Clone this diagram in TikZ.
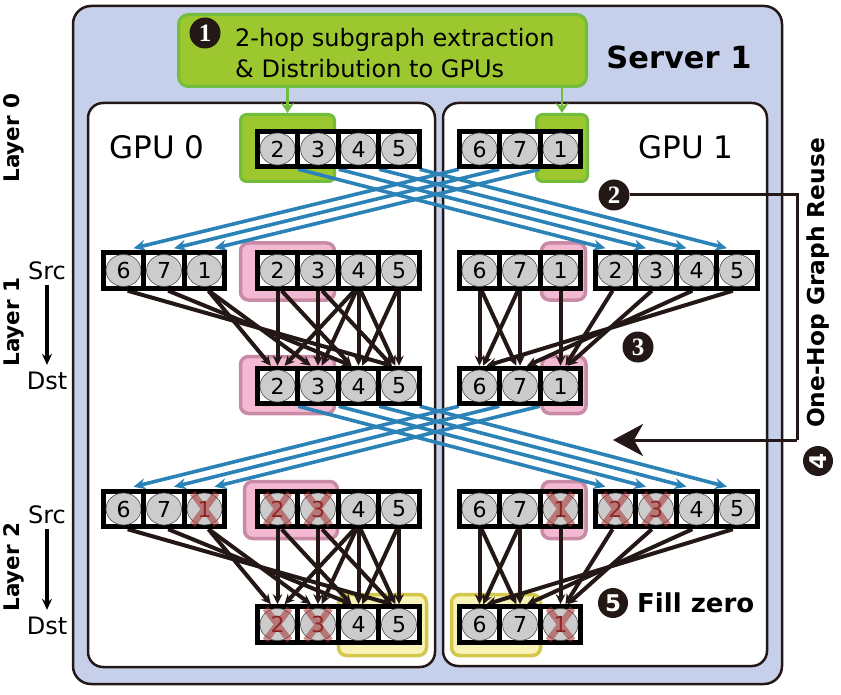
\documentclass[tikz,border=0pt]{standalone}
\usepackage{fontspec}
\setmainfont{DejaVu Sans}
\newfontfamily\numfont{Liberation Serif}
\usetikzlibrary{arrows.meta,calc,shapes.geometric}
\definecolor{dk}{HTML}{231815}
\definecolor{srvfill}{HTML}{C7D0EB}
\definecolor{grnfill}{HTML}{9DC72E}
\definecolor{grnline}{HTML}{72BD3E}
\definecolor{pinkfill}{HTML}{F3B9D2}
\definecolor{pinkline}{HTML}{C88AA5}
\definecolor{yelfill}{HTML}{F8F4B8}
\definecolor{yelline}{HTML}{D3C84C}
\definecolor{blu}{HTML}{2A82B6}
\definecolor{cellgray}{HTML}{CCCCCC}
\definecolor{xred}{HTML}{A83232}
\definecolor{xnum}{HTML}{7A1E1E}
\pgfdeclarelayer{bg}
\pgfdeclarelayer{edges}
\pgfsetlayers{bg,edges,main}
\newcommand\cel[4]{\node[cellbox] (#1) at (#2,#3) {}; \node[cellov] (#1c) at (#1) {#4};}
\newcommand\xcel[4]{\node[cellbox] (#1) at (#2,#3) {}; \node[cellov,text=xnum] (#1c) at (#1) {#4};
  \draw[xmark] ([shift={(-12,-16)}]#1.center) -- ([shift={(12,16)}]#1.center)
               ([shift={(-12,16)}]#1.center) -- ([shift={(12,-16)}]#1.center);}
\newcommand\bedge[2]{\draw[blk] let \p1=(#1.south), \p2=(#2.north),
  \n1={max(-7,min(7,0.09*(\x2-\x1)))} in ({\x1+0.6*\n1},\y1) -- ({\x2-\n1},\y2);}
\begin{document}
\begin{tikzpicture}[x=1pt,y=-1pt,
  cellbox/.style={rectangle, draw=black, line width=5pt, fill=white, minimum width=40.5pt, minimum height=35.5pt, inner sep=0pt},
  cellov/.style={ellipse, draw=gray!60!black, line width=0.6pt, fill=cellgray, minimum width=35pt, minimum height=32pt, inner sep=0pt, font=\fontsize{22}{22}\selectfont},
  xmark/.style={draw=xred, line width=6.5pt, opacity=0.55},
  blk/.style={draw=dk, line width=4pt, -{Stealth[length=10pt,width=9.5pt]}},
  blu/.style={draw=blu, line width=3.6pt, -{Stealth[length=12pt,width=11pt]}},
  gbox/.style={rectangle, rounded corners=6pt, fill=grnfill, draw=grnline, line width=3pt, inner sep=0pt},
  pbox/.style={rectangle, rounded corners=8pt, fill=pinkfill, draw=pinkline, line width=3.5pt, inner sep=0pt},
  ybox/.style={rectangle, rounded corners=8pt, fill=yelfill, draw=yelline, line width=3.5pt, inner sep=0pt},
  numc/.style={circle, fill=dk, text=white, minimum size=31pt, inner sep=0pt, font=\numfont\fontsize{25}{25}\selectfont\bfseries},
  numcs/.style={circle, fill=dk, text=white, minimum size=30pt, inner sep=0pt, font=\fontsize{23}{23}\selectfont\bfseries},
  garr/.style={draw=grnline, line width=2.5pt, -{Stealth[length=10pt,width=13pt]}},
  bigarr/.style={draw=dk, line width=3pt, -{Stealth[length=30pt,width=32pt,inset=9pt]}},
  thinarr/.style={draw=black, line width=3.3pt, -{Stealth[length=11pt,width=10pt]}},
  lbl/.style={inner sep=0pt, font=\fontsize{24}{24}\selectfont},
  lay/.style={inner sep=0pt, rotate=90, font=\fontsize{21.5}{21.5}\selectfont\bfseries}
]
\useasboundingbox (0,0) rectangle (841,695);

\begin{pgfonlayer}{bg}
  \draw[fill=srvfill, draw=dk, line width=2.5pt, rounded corners=18pt] (73,6) rectangle (782,684);
  \draw[fill=white, draw=dk, line width=2.5pt, rounded corners=15pt] (88,103) rectangle (435,667);
  \draw[fill=white, draw=dk, line width=2.5pt, rounded corners=15pt] (443,103) rectangle (767,666);
  % highlights
  \node[gbox, minimum width=94pt, minimum height=67pt] (gh0) at (287.5,148) {};
  \node[gbox, minimum width=51pt, minimum height=67pt] (gh1) at (562,148) {};
  \node[pbox, minimum width=94pt, minimum height=57pt] (ph1) at (287.5,271.5) {};
  \node[pbox, minimum width=44pt, minimum height=57pt] (ph2) at (563.5,271.5) {};
  \node[pbox, minimum width=94pt, minimum height=57pt] (ph3) at (287.5,385) {};
  \node[pbox, minimum width=44pt, minimum height=57pt] (ph4) at (564,385) {};
  \node[pbox, minimum width=93pt, minimum height=57pt] (ph5) at (291,510) {};
  \node[pbox, minimum width=44pt, minimum height=57pt] (ph6) at (564,510) {};
  \node[ybox, minimum width=88pt, minimum height=61pt] (yh1) at (382.5,625) {};
  \node[ybox, minimum width=89pt, minimum height=61pt] (yh2) at (496,625) {};
\end{pgfonlayer}

% step 1 box
\node[gbox, rounded corners=10pt, minimum width=408pt, minimum height=72pt] (gbox) at (382.5,50.5) {};
\node[numc] (n1) at (205,33) {1};
\node[anchor=base west, inner sep=0pt, font=\fontsize{24}{24}\selectfont] (t1a) at (235,47) {2-hop subgraph extraction};
\node[anchor=base west, inner sep=0pt, font=\fontsize{24}{24}\selectfont] (t1b) at (235,78) {\& Distribution to GPUs};
\draw[garr] (gbox.south -| gh0.north) -- (gh0.north);
\draw[garr] (gbox.south -| gh1.north) -- (gh1.north);

\node[inner sep=0pt, font=\fontsize{30.5}{30.5}\selectfont\bfseries] (srv) at (679,57) {Server 1};
\node[inner sep=0pt, font=\fontsize{31}{31}\selectfont] (g0) at (157,147) {GPU 0};
\node[inner sep=0pt, font=\fontsize{31}{31}\selectfont] (g1) at (686,147) {GPU 1};

% Layer 0
\foreach \n/\x in {2/277.5,3/318,4/358.5,5/399} {\cel{l0a\n}{\x}{149}{\n}}
\foreach \n/\x in {6/479.5,7/520,1/560.5} {\cel{l0b\n}{\x}{149}{\n}}
% Layer 1 src
\foreach \n/\x in {6/123.5,7/164,1/204.5,2/277.5,3/318,4/358.5,5/399} {\cel{s1a\n}{\x}{270.5}{\n}}
\foreach \n/\x in {6/479.5,7/520,1/560.5,2/615.5,3/656,4/696.5,5/737} {\cel{s1b\n}{\x}{270.5}{\n}}
% Layer 1 dst
\foreach \n/\x in {2/277.5,3/318,4/358.5,5/399} {\cel{d1a\n}{\x}{386}{\n}}
\foreach \n/\x in {6/479.5,7/520,1/560.5} {\cel{d1b\n}{\x}{386}{\n}}
% Layer 2 src
\foreach \n/\x in {6/123.5,7/164,4/358.5,5/399} {\cel{s2a\n}{\x}{509}{\n}}
\foreach \n/\x in {1/204.5,2/277.5,3/318} {\xcel{s2a\n}{\x}{509}{\n}}
\foreach \n/\x in {6/479.5,7/520,4/696.5,5/737} {\cel{s2b\n}{\x}{509}{\n}}
\foreach \n/\x in {1/560.5,2/615.5,3/656} {\xcel{s2b\n}{\x}{509}{\n}}
% Layer 2 dst
\foreach \n/\x in {4/358.5,5/399} {\cel{d2a\n}{\x}{624.5}{\n}}
\foreach \n/\x in {2/277.5,3/318} {\xcel{d2a\n}{\x}{624.5}{\n}}
\foreach \n/\x in {6/479.5,7/520} {\cel{d2b\n}{\x}{624.5}{\n}}
\foreach \n/\x in {1/560.5} {\xcel{d2b\n}{\x}{624.5}{\n}}

\begin{pgfonlayer}{edges}
  % blue: cross-GPU transfers
  \foreach \n in {2,3,4,5} {
    \draw[blu] ([xshift=-2pt]l0a\n.south east) -- ([xshift=-10pt,yshift=2pt]s1b\n.north);
    \draw[blu] ([xshift=-2pt]d1a\n.south east) -- ([xshift=-10pt,yshift=2pt]s2b\n.north);
  }
  \foreach \n in {6,7,1} {
    \draw[blu] ([xshift=2pt]l0b\n.south west) -- ([xshift=10pt,yshift=2pt]s1a\n.north);
    \draw[blu] ([xshift=2pt]d1b\n.south west) -- ([xshift=10pt,yshift=2pt]s2a\n.north);
  }
  % black: aggregation edges
  \foreach \s/\d in {2/2,2/4,3/3,3/5,4/2,4/3,4/4,4/5,5/4,5/5,6/5,7/4,1/2,1/3} {
    \bedge{s1a\s}{d1a\d}
    \bedge{s2a\s}{d2a\d}
  }
  \foreach \s/\d in {6/6,6/7,7/6,7/7,1/1,2/1,3/1,4/7,5/6} {
    \bedge{s1b\s}{d1b\d}
    \bedge{s2b\s}{d2b\d}
  }
\end{pgfonlayer}

% step markers
\node[numc] (n2) at (614,195) {2};
\node[numc] (n3) at (638,347) {3};
\coordinate (c2a) at (797,195);
\coordinate (c2b) at (797,440);
\coordinate (c2c) at (613,440);
\draw[dk, line width=3pt] (n2.east) -- (c2a) -- (c2b);
\draw[bigarr] (c2b) -- (c2c);
\node[numcs, rotate=90] (n4) at (818,461) {4};
\node[inner sep=0pt, rotate=90, font=\fontsize{23.3}{23.3}\selectfont\bfseries] (reuse) at (818,283) {One-Hop Graph Reuse};
\node[numcs] (n5) at (613,603) {5};
\node[anchor=west, inner sep=0pt, font=\fontsize{26}{26}\selectfont\bfseries] (fz) at (637,603) {Fill zero};

% left labels
\node[lay] (lay0) at (14,138) {Layer 0};
\node[lay] (lay1) at (14,322) {Layer 1};
\node[lay] (lay2) at (14,567) {Layer 2};
\node[lbl] (src1) at (47,271) {Src};
\node[lbl] (dst1) at (47,381) {Dst};
\node[lbl] (src2) at (47,515) {Src};
\node[lbl] (dst2) at (47,626) {Dst};
\draw[thinarr, shorten <=5pt, shorten >=7pt] (src1.south) -- (dst1.north);
\draw[thinarr, shorten <=5pt, shorten >=7pt] (src2.south) -- (dst2.north);
\end{tikzpicture}
\end{document}
